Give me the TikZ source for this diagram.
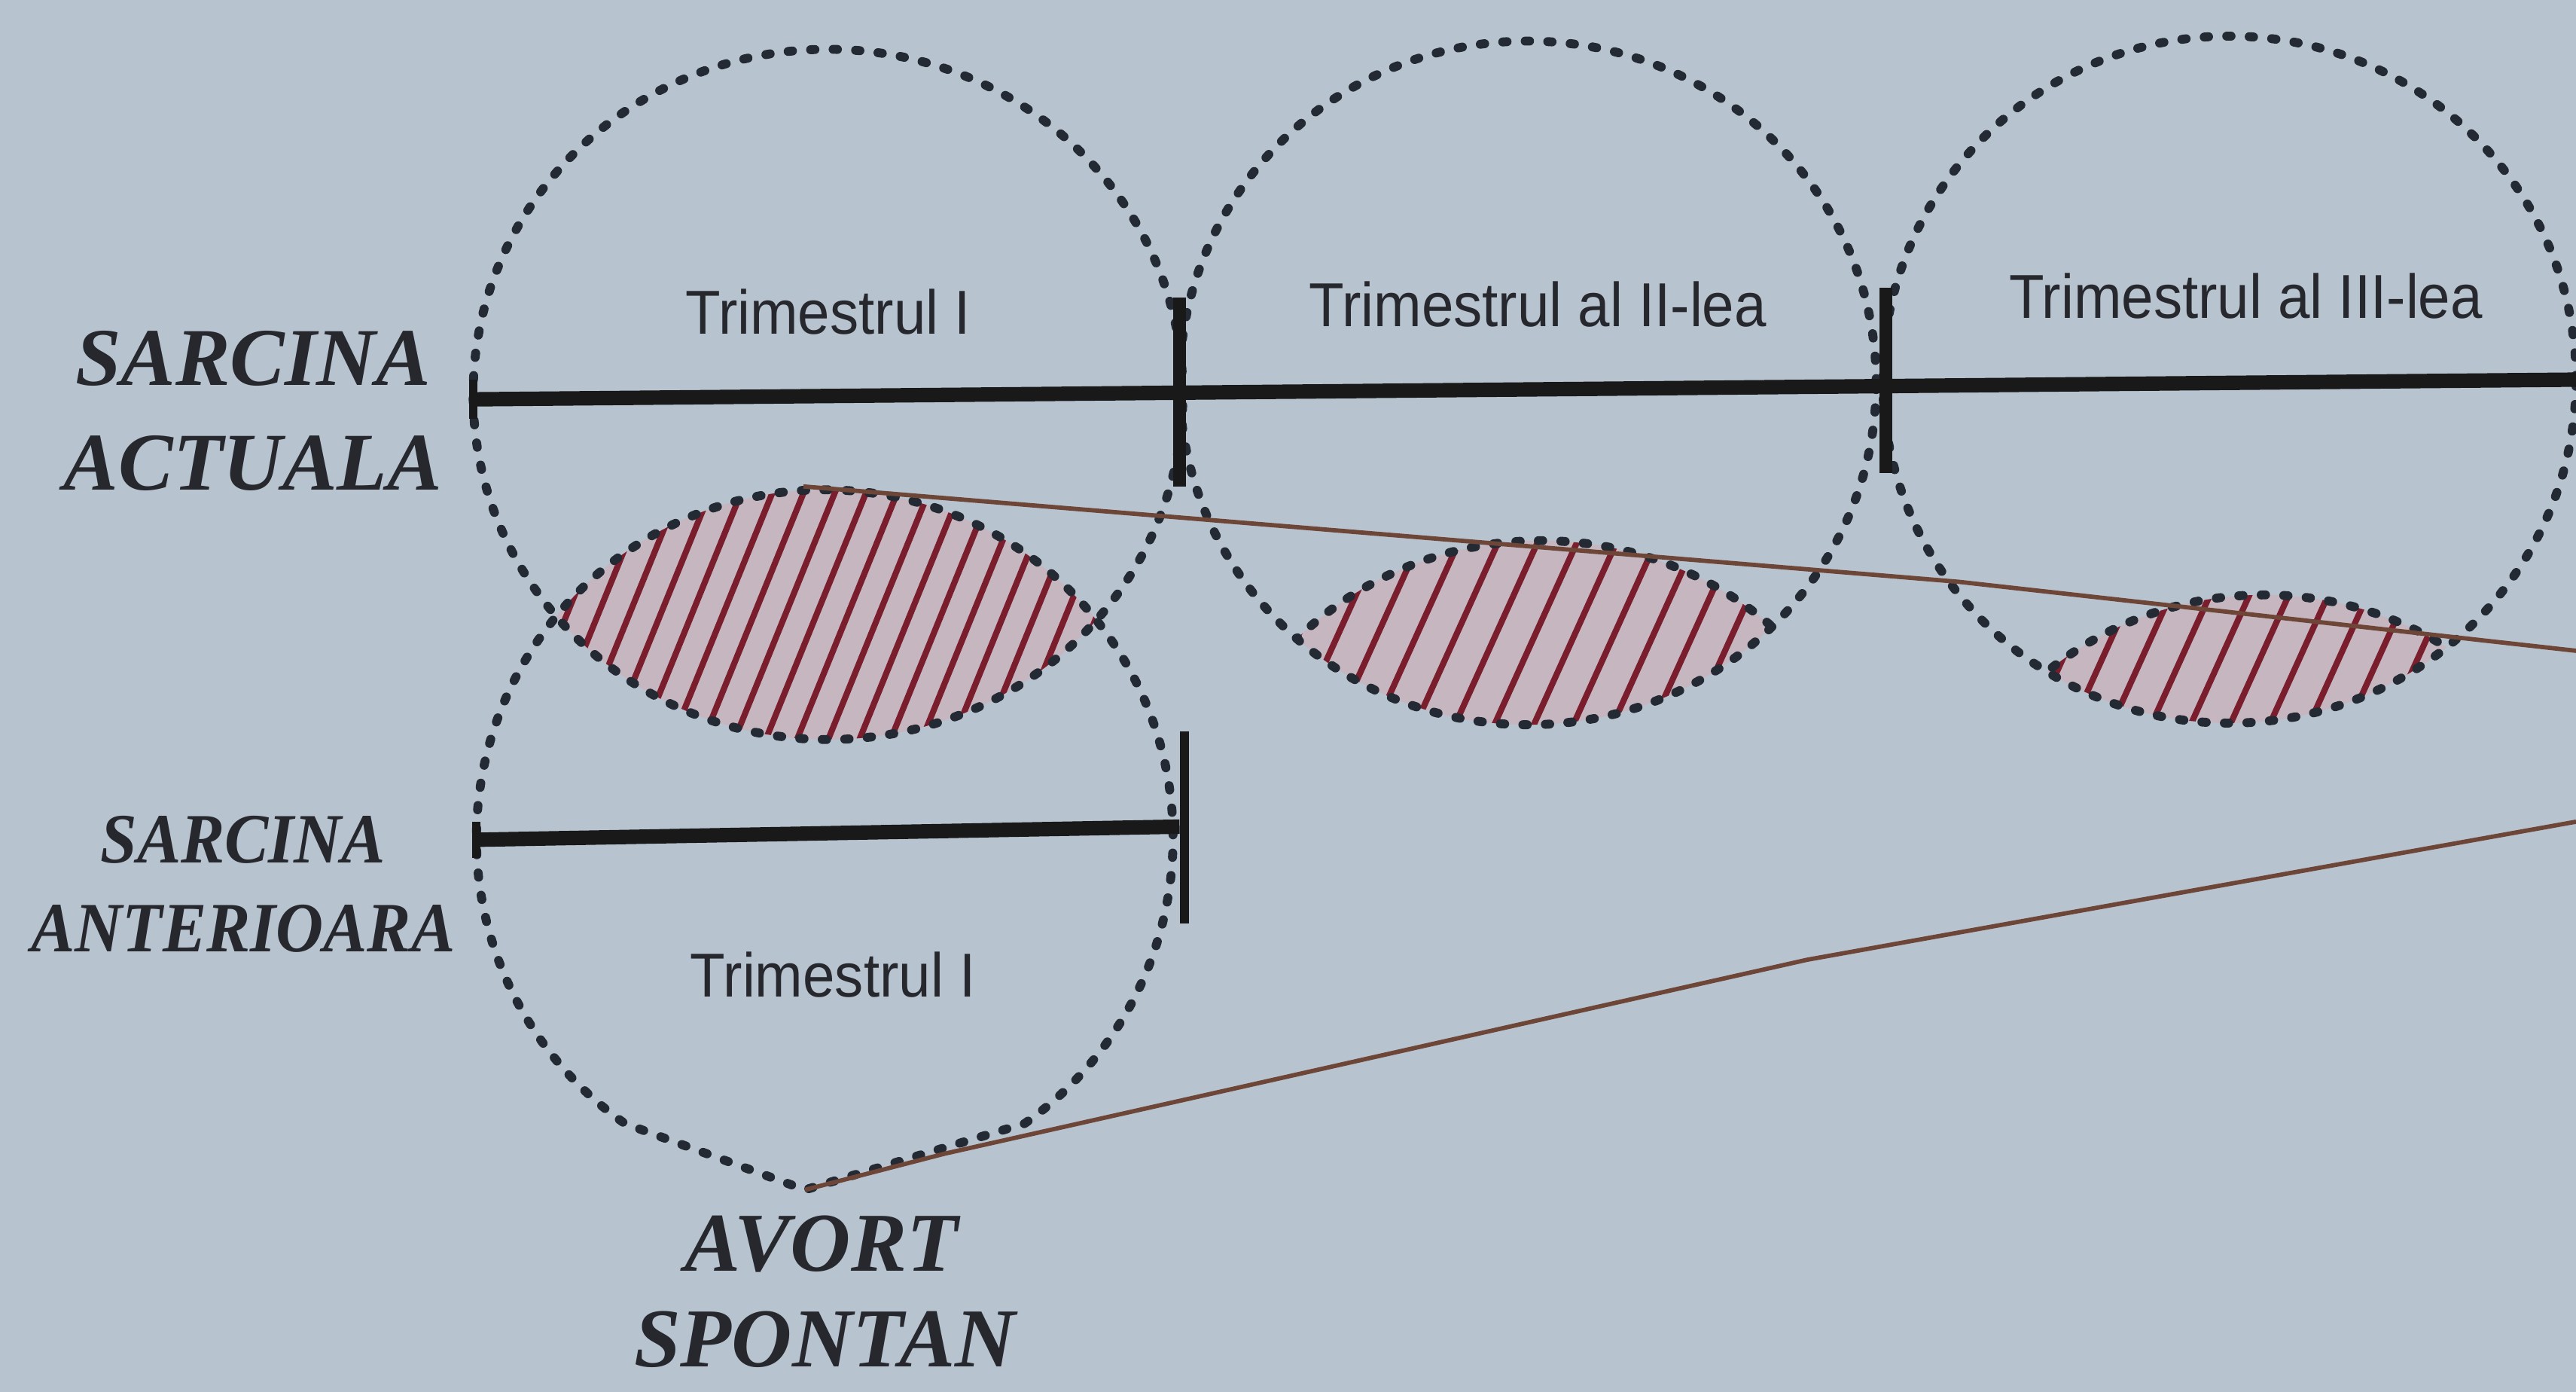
\documentclass[tikz,border=0pt]{standalone}
\usepackage{fontspec}
\setmainfont{Liberation Serif}
\newfontfamily\sansf{Liberation Sans}
\definecolor{bgc}{RGB}{183,196,208}
\definecolor{dotc}{RGB}{36,42,52}
\definecolor{hatchc}{RGB}{122,30,46}
\definecolor{brownc}{RGB}{110,70,56}
\definecolor{lensc}{RGB}{198,182,192}
\definecolor{txtc}{RGB}{38,40,46}
\begin{document}
\begin{tikzpicture}[x=0.02cm,y=0.02cm,
  dotline/.style={draw=dotc, line width=3.1pt, line cap=round, dash pattern=on 1.5pt off 6.3pt},
  bar/.style={draw=black!90, line width=5pt},
  tickbar/.style={draw=black!90, line width=4.5pt},
  thintick/.style={draw=black!90, line width=3pt},
  hatchline/.style={draw=hatchc, line width=2.1pt},
  brownline/.style={draw=brownc, line width=1.5pt, line join=round},
  lensfill/.style={fill=lensc},
  biglabel/.style={font=\fontsize{28.4}{30}\selectfont\bfseries\itshape, text=txtc, inner sep=0},
  smalllabel/.style={font=\fontsize{24.5}{26}\selectfont\bfseries\itshape, text=txtc, inner sep=0},
  avlabel/.style={font=\fontsize{29}{31}\selectfont\bfseries\itshape, text=txtc, inner sep=0},
  trilabel/.style={font=\sansf\fontsize{19.9}{21}\selectfont, text=txtc, inner sep=0}]

% background and bounding box
\fill[bgc] (0,0) rectangle (1568,-847);
\useasboundingbox (0,0) rectangle (1568,-847);

% circle centres
\coordinate (c1) at (504,-240);
\coordinate (c2) at (930,-233);
\coordinate (c3) at (1357,-231);
\coordinate (c4) at (502,-510);
\coordinate (p2) at (938,-537);
\coordinate (p3) at (1378,-572);

% lens 1 : circle 1 with circle 4
\begin{scope}
  \clip (c1) ellipse [x radius=216, y radius=210];
  \clip (c4) circle [radius=212];
  \fill[lensfill] (0,0) rectangle (1568,-847);
  \foreach \k in {-11,...,11}
    \draw[hatchline] ({497+\k*19-61},-524) -- ({497+\k*19+61},-224);
\end{scope}

% lens 2 : circle 2 with hidden circle below
\begin{scope}
  \clip (c2) ellipse [x radius=212, y radius=208];
  \clip (p2) ellipse [x radius=212, y radius=208];
  \fill[lensfill] (0,0) rectangle (1568,-847);
  \foreach \k in {-8,...,8}
    \draw[hatchline] ({935+\k*24-68},-535) -- ({935+\k*24+68},-235);
\end{scope}
\begin{scope}
  \clip (c2) ellipse [x radius=212, y radius=208];
  \draw[dotline] (p2) ellipse [x radius=212, y radius=208];
\end{scope}

% lens 3 : circle 3 with hidden circle below
\begin{scope}
  \clip (c3) ellipse [x radius=211, y radius=209];
  \clip (p3) circle [radius=210];
  \fill[lensfill] (0,0) rectangle (1568,-847);
  \foreach \k in {-7,...,7}
    \draw[hatchline] ({1376+\k*24-68},-550) -- ({1376+\k*24+68},-250);
\end{scope}
\begin{scope}
  \clip (c3) ellipse [x radius=211, y radius=209];
  \draw[dotline] (p3) circle [radius=210];
\end{scope}

% dotted circles
\draw[dotline] (c1) ellipse [x radius=216, y radius=210];
\draw[dotline] (c2) ellipse [x radius=212, y radius=208];
\draw[dotline] (c3) ellipse [x radius=211, y radius=209];
\coordinate (v4) at (490,-724);
\draw[dotline] (623.6,-683.7) arc [start angle=-55, end angle=235, radius=212] -- (v4) -- cycle;

% current pregnancy time line
\coordinate (la) at (288,-243);
\coordinate (lb) at (1568,-231);
\draw[bar] (la) -- (lb);
\coordinate (t0a) at (288,-231);
\coordinate (t0b) at (288,-255);
\draw[thintick] (t0a) -- (t0b);
\coordinate (t1a) at (718,-181);
\coordinate (t1b) at (718,-296);
\draw[tickbar] (t1a) -- (t1b);
\coordinate (t2a) at (1148,-175);
\coordinate (t2b) at (1148,-288);
\draw[tickbar] (t2a) -- (t2b);

% previous pregnancy time line
\coordinate (ma) at (290,-511);
\coordinate (mb) at (718,-503);
\draw[bar] (ma) -- (mb);
\coordinate (m0a) at (290,-500);
\coordinate (m0b) at (290,-522);
\draw[thintick] (m0a) -- (m0b);
\coordinate (m1a) at (721,-445);
\coordinate (m1b) at (721,-562);
\draw[thintick] (m1a) -- (m1b);

% brown lines
\coordinate (u0) at (489,-296);
\coordinate (u1) at (1192,-354);
\coordinate (u2) at (1568,-396);
\draw[brownline] (u0) -- (u1) -- (u2);
\coordinate (w0) at (575,-702);
\coordinate (w1) at (1100,-584);
\coordinate (w2) at (1568,-500);
\draw[brownline] (v4) -- (w0) -- (w1) -- (w2);

% labels
\node[biglabel] (sa1) at (154,-218) {SARCINA};
\node[biglabel] (sa2) at (154,-282) {ACTUALA};
\node[smalllabel] (an1) at (148,-511) {\scalebox{0.93}[1]{SARCINA}};
\node[smalllabel] (an2) at (148,-565) {\scalebox{0.93}[1]{ANTERIOARA}};
\node[avlabel] (av1) at (500,-757) {AVORT};
\node[avlabel] (av2) at (502,-815) {SPONTAN};
\node[trilabel] (tr1) at (504,-190) {\scalebox{1}[1.08]{Trimestrul I}};
\node[trilabel] (tr2) at (936,-185) {\scalebox{1}[1.08]{Trimestrul al II-lea}};
\node[trilabel] (tr3) at (1367,-180) {\scalebox{1}[1.08]{Trimestrul al III-lea}};
\node[trilabel] (tr4) at (507,-593) {\scalebox{1}[1.08]{Trimestrul I}};
\end{tikzpicture}
\end{document}
